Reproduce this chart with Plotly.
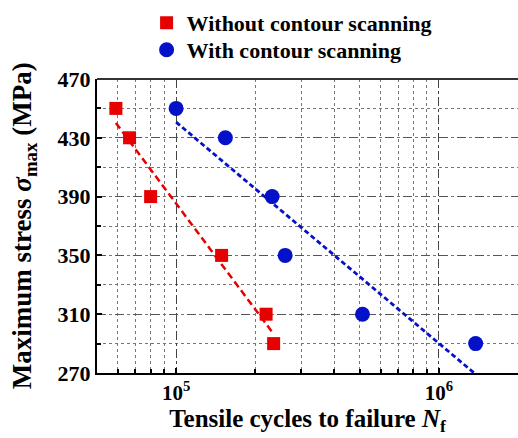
import numpy as np
import plotly.graph_objects as go

# Fatigue test results: cycles to failure vs. maximum stress
stress_levels = [450, 430, 390, 350, 310, 290]
cycles_without = [59000, 66500, 80000, 149000, 220000, 235000]
cycles_with = [100000, 154000, 232000, 260000, 512000, 1380000]

series_names = ["Without contour scanning", "With contour scanning"]
y_ticks = [270, 310, 350, 390, 430, 470]
x_ticks = [1e5, 1e6]
x_ticktext = ["10<sup>5</sup>", "10<sup>6</sup>"]

RED = "#e60000"
BLUE = "#0511c8"
FONT = "Liberation Serif"


def fit_line(cycles, stress):
    """Least-squares S-N fit of stress on log10(N), spanning the data range."""
    logn = np.log10(cycles)
    slope, icpt = np.polyfit(logn, stress, 1)
    xs = np.array([logn.min(), logn.max()])
    return 10 ** xs, slope * xs + icpt


fig = go.Figure()

fx, fy = fit_line(cycles_without, stress_levels)
fig.add_trace(go.Scatter(x=fx, y=fy, mode="lines", showlegend=False,
                         line=dict(color=RED, width=2.5, dash="7px,4px")))
fx, fy = fit_line(cycles_with, stress_levels)
fig.add_trace(go.Scatter(x=fx, y=fy, mode="lines", showlegend=False,
                         line=dict(color=BLUE, width=2.8, dash="5px,3px")))

fig.add_trace(go.Scatter(x=cycles_without, y=stress_levels, mode="markers",
                         name=series_names[0], legend="legend",
                         marker=dict(symbol="square", size=13, color=RED,
                                     line=dict(width=0))))
fig.add_trace(go.Scatter(x=cycles_with, y=stress_levels, mode="markers",
                         name=series_names[1], legend="legend2",
                         marker=dict(symbol="circle", size=15, color=BLUE,
                                     line=dict(width=0))))

legend_common = dict(xref="container", yref="container", x=0.283,
                     xanchor="left", yanchor="middle",
                     bgcolor="rgba(0,0,0,0)",
                     font=dict(size=22, family=FONT, weight="bold"),
                     itemsizing="trace")

fig.update_layout(
    width=518, height=438,
    margin=dict(l=97, r=0, t=79, b=65, autoexpand=False),
    paper_bgcolor="white", plot_bgcolor="white",
    font=dict(family=FONT, size=21, color="black", weight="bold"),
    legend=dict(legend_common, y=1 - 23 / 438),
    legend2=dict(legend_common, y=1 - 50 / 438),
    showlegend=True,
)

fig.update_xaxes(
    type="log",
    range=[np.log10(5e4), np.log10(2e6)],
    tickvals=x_ticks, ticktext=x_ticktext,
    ticks="inside", ticklen=5, tickwidth=1.5, tickcolor="black",
    showline=True, linecolor="black", linewidth=2, mirror=False,
    showgrid=True, gridcolor="#444444", gridwidth=1, griddash="dashdot",
    minor=dict(dtick="D1", ticks="inside", ticklen=4, tickcolor="black",
               showgrid=True, gridcolor="#777777", gridwidth=1,
               griddash="dot"),
    tickfont=dict(size=21, family=FONT, weight="bold"),
    title=dict(text="Tensile cycles to failure <i>N</i><sub>f</sub>",
               font=dict(size=25, family=FONT, weight="bold"), standoff=5),
    zeroline=False,
    automargin=True,
)

fig.update_yaxes(
    range=[270, 470],
    tickvals=y_ticks,
    ticks="inside", ticklen=5, tickwidth=1.5, tickcolor="black",
    showline=True, linecolor="black", linewidth=2, mirror=False,
    showgrid=True, gridcolor="#555555", gridwidth=1, griddash="dash",
    minor=dict(dtick=20, tick0=270, ticks="inside", ticklen=4,
               tickcolor="black", showgrid=True, gridcolor="#777777",
               gridwidth=1, griddash="dot"),
    tickfont=dict(size=22, family=FONT, weight="bold"),
    zeroline=False,
    automargin=False,
)

# Y-axis title, placed left of the tick labels
fig.add_annotation(
    text="Maximum stress <i>σ</i><sub>max</sub> (MPa)",
    xref="paper", yref="paper", x=-0.173, y=0.5,
    xanchor="center", yanchor="middle", textangle=-90, showarrow=False,
    font=dict(size=27, family=FONT, weight="bold", color="black"),
)

# Top frame line (the plot continues past the right edge, so no right border)
fig.add_shape(type="line", xref="paper", yref="paper", x0=0, x1=1, y0=1, y1=1,
              line=dict(color="#333333", width=2))

fig.write_html("out.html")
